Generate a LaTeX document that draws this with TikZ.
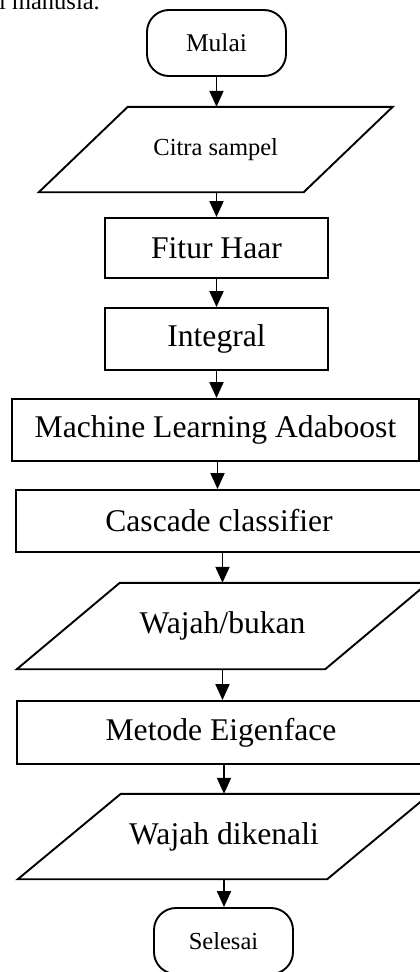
\documentclass[tikz,border=0pt]{standalone}
\usepackage{fontspec}
\setmainfont{Liberation Serif}
\usetikzlibrary{arrows.meta,calc}
\tikzset{
  line/.style={line width=1.9pt},
  bigtxt/.style={font=\fontsize{31.6}{36}\selectfont},
  smalltxt/.style={font=\fontsize{24.5}{28}\selectfont},
  procbox/.style={line, draw, rectangle, inner sep=0pt, bigtxt},
  termbox/.style={line, draw, rectangle, rounded corners=22pt, inner sep=0pt},
  iobox/.style={rectangle, inner sep=0pt},
  flow/.style={line, -{Triangle[width=14pt,length=16pt]}},
}
\begin{document}
\begin{tikzpicture}[x=1pt,y=-1pt]
\useasboundingbox (0,0) rectangle (420,972);
% clipped caption text at top
\node[smalltxt, anchor=base east, inner sep=0pt] (cap) at (100,9) {i manusia.};
% start
\node[termbox, smalltxt, minimum width=139pt, minimum height=66pt, font=\fontsize{25.5}{28}\selectfont] (mulai) at (216.5,43) {Mulai};
% Citra sampel
\node[iobox, smalltxt, minimum width=353.5pt, minimum height=85pt] (citra) at (215.75,149.5) {Citra sampel};
\draw[line] ([xshift=89pt]citra.north west) -- (citra.north east) -- ([xshift=-89pt]citra.south east) -- (citra.south west) -- cycle;
% processes
\node[procbox, minimum width=223pt, minimum height=60pt] (haar) at (216.5,248) {Fitur Haar};
\node[procbox, minimum width=223pt, minimum height=62pt] (integral) at (216.5,339) {Integral};
\node[procbox, minimum width=407pt, minimum height=62pt] (ml) at (215.5,430) {Machine Learning Adaboost};
\node[procbox, minimum width=406pt, minimum height=62pt] (cascade) at (219,521) {Cascade classifier};
% Wajah/bukan
\node[iobox, bigtxt, minimum width=411pt, minimum height=86pt] (wb) at (222.5,626) {Wajah/bukan};
\draw[line] ([xshift=103pt]wb.north west) -- (wb.north east) -- ([xshift=-103pt]wb.south east) -- (wb.south west) -- cycle;
% Metode Eigenface
\node[procbox, minimum width=408pt, minimum height=63pt] (eigen) at (221,732.5) {Metode Eigenface};
% Wajah dikenali
\node[iobox, bigtxt, minimum width=412pt, minimum height=85pt] (wd) at (224,836.5) {Wajah dikenali};
\draw[line] ([xshift=103pt]wd.north west) -- (wd.north east) -- ([xshift=-103pt]wd.south east) -- (wd.south west) -- cycle;
% end
\node[termbox, smalltxt, minimum width=139pt, minimum height=66pt] (selesai) at (223.5,941) {Selesai};
% connectors
\draw[flow] (mulai.south) -- (mulai.south |- citra.north);
\draw[flow] (citra.south -| haar.north) -- (haar.north);
\draw[flow] (haar.south) -- (integral.north);
\draw[flow] (integral.south) -- (integral.south |- ml.north);
\draw[flow] ([xshift=2pt]ml.south) -- ([xshift=2pt]ml.south |- cascade.north);
\draw[flow] (wb.north |- cascade.south) -- (wb.north);
\draw[flow] (wb.south) -- (wb.south |- eigen.north);
\draw[flow] (wd.north |- eigen.south) -- (wd.north);
\draw[flow] (wd.south) -- (wd.south |- selesai.north);
\end{tikzpicture}
\end{document}
